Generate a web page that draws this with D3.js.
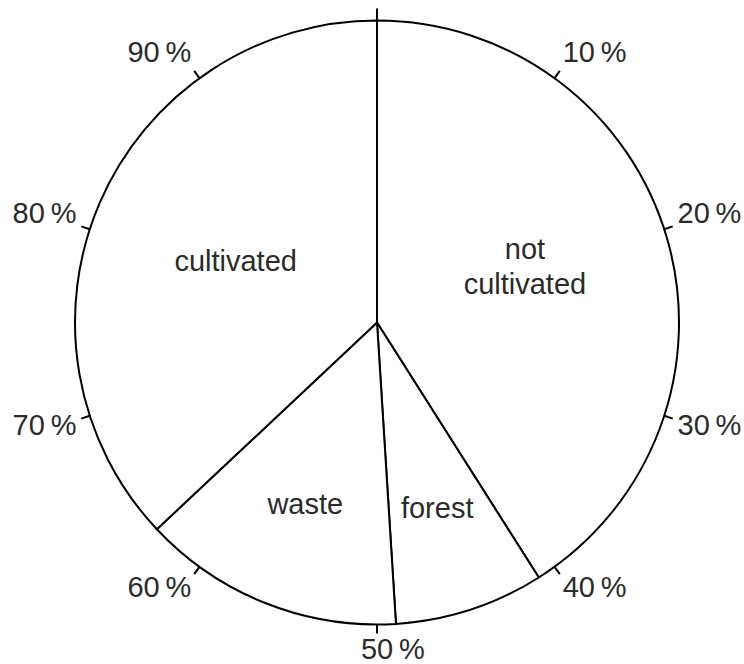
<!DOCTYPE html>
<html>
<head>
<meta charset="utf-8">
<script src="https://cdn.jsdelivr.net/npm/d3@7"></script>
<style>
  body { margin: 0; background: #fff; }
  text { font-family: "Liberation Sans", Arial, Helvetica, sans-serif; fill: #2b2b2b; }
</style>
</head>
<body>
<script>
// land use shares, in percent, clockwise from the top
var categories = ['not cultivated', 'forest', 'waste', 'cultivated'];
var shares = [41, 8, 14, 37];
// ticks round the rim
var tickValues = [10, 20, 30, 40, 50, 60, 70, 80, 90];

var width = 744, height = 664;
var cx = 377, cy = 322.5, radius = 302;
var FONT_SIZE = 29;
var CAP = 0.716 * FONT_SIZE;        // digit height
var TICK_LABEL_DIST = radius + 14;  // nearest corner of a label sits here

var svg = d3.select('body').append('svg')
  .attr('width', width)
  .attr('height', height);

var g = svg.append('g').attr('transform', 'translate(' + cx + ',' + cy + ')');

var pie = d3.pie().sort(null).value(function(d){ return d.value; });
var arc = d3.arc().innerRadius(0).outerRadius(radius);

var data = categories.map(function(c, i){ return { name: c, value: shares[i] }; });
var arcs = pie(data);

// percent -> angle
var angle = d3.scaleLinear().domain([0, 100]).range([0, 2 * Math.PI]);

g.selectAll('path.slice')
  .data(arcs)
  .enter().append('path')
  .attr('class', 'slice')
  .attr('d', arc)
  .attr('fill', '#fff')
  .attr('stroke', '#000')
  .attr('stroke-width', 2)
  .attr('stroke-linejoin', 'round');

// 0 % line runs a bit past the rim
g.append('line')
  .attr('x1', 0).attr('y1', 0)
  .attr('x2', 0).attr('y2', -(radius + 12))
  .attr('stroke', '#000').attr('stroke-width', 2);

var ticks = g.selectAll('g.tick')
  .data(tickValues)
  .enter().append('g')
  .attr('class', 'tick');

ticks.append('line')
  .attr('x1', function(d){ return Math.sin(angle(d)) * radius; })
  .attr('y1', function(d){ return -Math.cos(angle(d)) * radius; })
  .attr('x2', function(d){ return Math.sin(angle(d)) * (radius + 9); })
  .attr('y2', function(d){ return -Math.cos(angle(d)) * (radius + 9); })
  .attr('stroke', '#000').attr('stroke-width', 2);

// the corner of each label nearest the rim sits about on the tick's ray;
// at the bottom the number is centred on the ray
ticks.append('text')
  .style('font-size', FONT_SIZE + 'px')
  .each(function(d){
    var t = d3.select(this);
    var num = t.append('tspan').text(d);
    t.append('tspan').text('\u2009%');
    var a = angle(d), s = Math.sin(a), c = -Math.cos(a);
    var x = s * TICK_LABEL_DIST, y;
    if (s > 0.3) {
      t.attr('text-anchor', 'start');
    } else if (s < -0.3) {
      t.attr('text-anchor', 'end');
    } else {
      t.attr('text-anchor', 'start');
      x -= num.node().getComputedTextLength() / 2;
    }
    if (c > 0) y = c * TICK_LABEL_DIST + CAP * (0.6 + 0.4 * c);
    else y = c * (TICK_LABEL_DIST + 6);
    t.attr('x', x).attr('y', y);
  });

// slice names
var labels = g.selectAll('text.label')
  .data(arcs)
  .enter().append('text')
  .attr('class', 'label')
  .attr('text-anchor', 'middle')
  .style('font-size', FONT_SIZE + 'px')
  .attr('transform', function(d){
    var share = (d.endAngle - d.startAngle) / (2 * Math.PI);
    var rr = share > 0.3 ? radius * 0.51 : radius * 0.645;
    var c = d3.arc().innerRadius(rr).outerRadius(rr).centroid(d);
    return 'translate(' + c[0] + ',' + c[1] + ')';
  });

labels.each(function(d){
  var words = d.data.name.split(' ');
  var lineH = 35;
  var n = words.length;
  var t = d3.select(this);
  words.forEach(function(w, i){
    t.append('tspan')
      .attr('x', 0)
      .attr('y', (i - (n - 1) / 2) * lineH - (n - 1) * 13)
      .attr('dy', '0.35em')
      .text(w);
  });
});
</script>
</body>
</html>
